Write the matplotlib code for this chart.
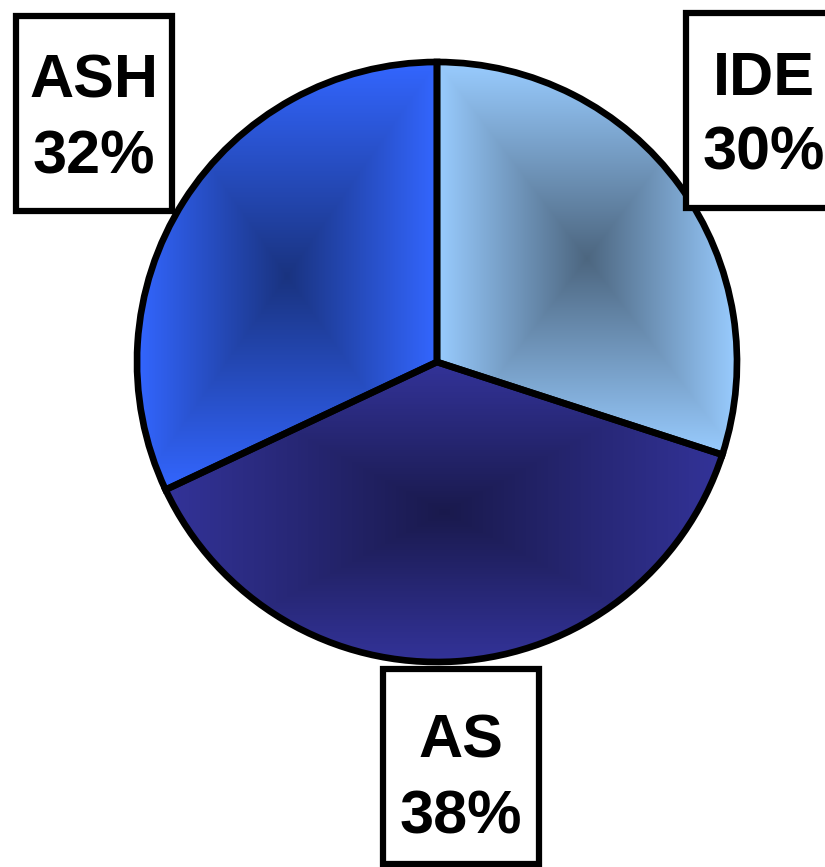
import numpy as np
import matplotlib.pyplot as plt
from matplotlib.patches import Rectangle
from matplotlib.colors import to_rgb

# données du graphique
labels = ['IDE', 'AS', 'ASH']
shares = [30, 38, 32]
colors = ['#99CCFF', '#333399', '#3366FF']

W, H = 825, 867
fig = plt.figure(figsize=(W / 100, H / 100), dpi=100)
ax = fig.add_axes([0, 0, 1, 1])

# camembert (coordonnées en pixels, y vers le haut)
cx, cy, r = 437, H - 362, 300
wedges, _ = ax.pie(shares, startangle=90, counterclock=False, radius=r, center=(cx, cy),
                   wedgeprops=dict(linewidth=4.8, edgecolor='black', facecolor='none', zorder=3),
                   frame=True)

# dégradé "depuis le centre" dans chaque part
n = 300
gx, gy = np.meshgrid(np.linspace(-1, 1, n), np.linspace(-1, 1, n))
t = np.maximum(np.abs(gx), np.abs(gy))
for w, c in zip(wedges, colors):
    ext = w.get_path().get_extents()
    edge = np.array(to_rgb(c))
    dark = edge * 0.5
    img = dark + (edge - dark) * t[..., None]
    im = ax.imshow(img, extent=(ext.x0, ext.x1, ext.y0, ext.y1), origin='lower',
                   interpolation='bilinear', zorder=1)
    im.set_clip_path(w)

# étiquettes encadrées : centre de la boîte, lignes de base des deux textes
box_w, box_h = 156, 195
label_boxes = {'IDE': (764, 110), 'AS': (461, 766), 'ASH': (94, 113)}
label_base = {'IDE': (95, 170), 'AS': (757, 833), 'ASH': (98, 173)}
for lab, s in zip(labels, shares):
    bx, by = label_boxes[lab]
    ax.add_patch(Rectangle((bx - box_w / 2, H - by - box_h / 2), box_w, box_h,
                           facecolor='white', edgecolor='black', linewidth=4.5, zorder=4))
    y1, y2 = label_base[lab]
    ax.text(bx, H - y1, lab, ha='center', va='baseline', fontsize=44, fontweight='bold',
            family='Liberation Sans', zorder=5)
    ax.text(bx, H - y2, f'{s}%', ha='center', va='baseline', fontsize=44, fontweight='bold',
            family='Liberation Sans', zorder=5)

ax.set_xlim(0, W)
ax.set_ylim(0, H)
ax.axis('off')

fig.savefig('out.png', dpi=100)
